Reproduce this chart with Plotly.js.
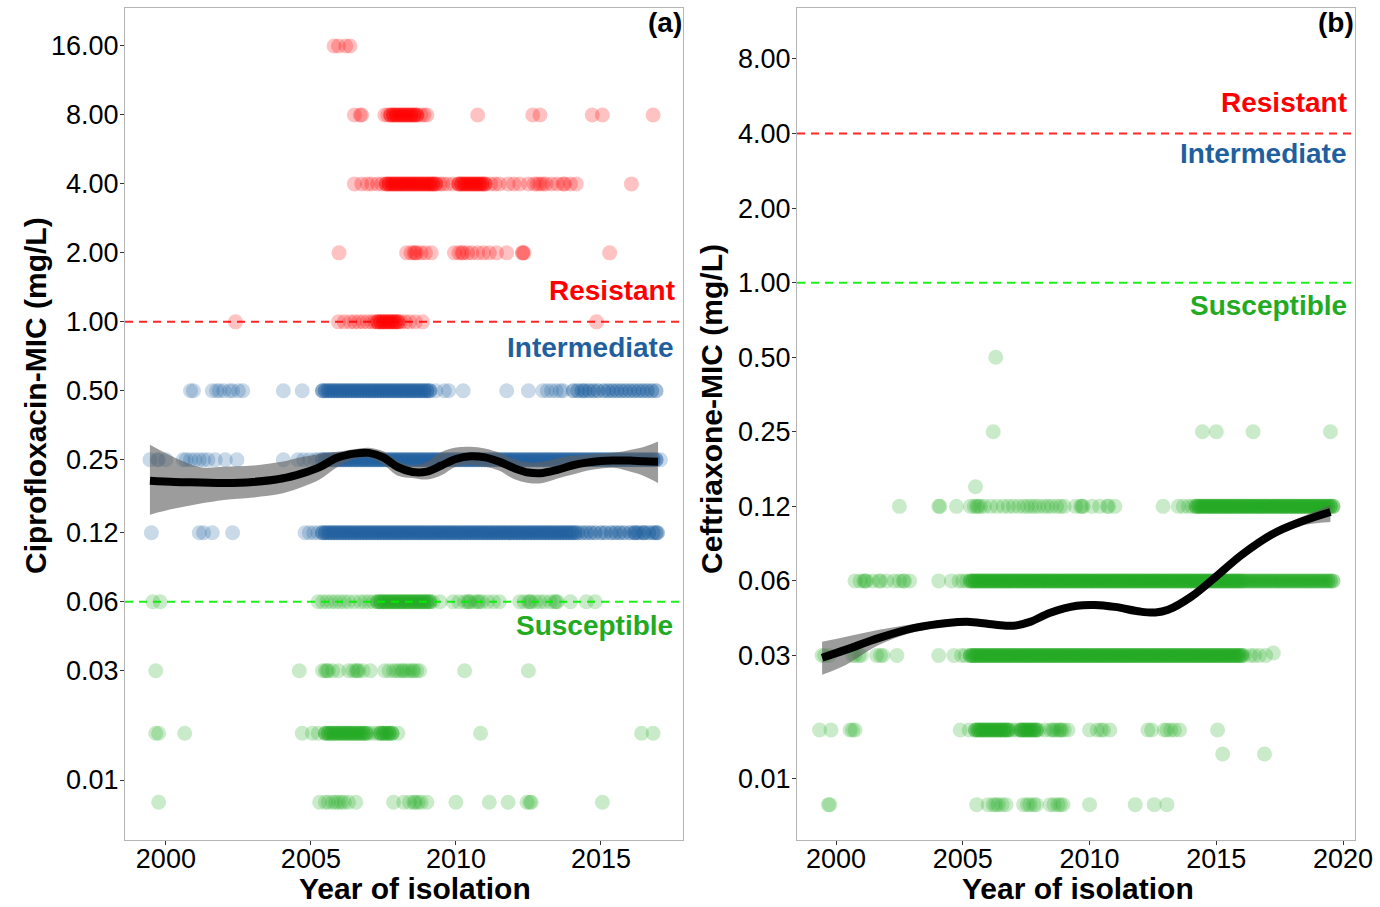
<!DOCTYPE html>
<html>
<head>
<meta charset="utf-8">
<script src="https://cdn.plot.ly/plotly-3.0.1.min.js"></script>
<style>html,body{margin:0;padding:0;background:#fff;}#chart{width:1380px;height:907px;}</style>
</head>
<body>
<div id="chart"></div>
<script>
// ---------- Panel (a): Ciprofloxacin MIC (mg/L) by year of isolation ----------
const cip_16 = [2005.8, 2005.95, 2006.2, 2006.35];
const cip_8 = [2006.5, 2006.7, 2006.75, 2007.55, 2007.65, 2008.8, 2008.9, 2009.0, 2010.75, 2012.65, 2012.9, 2014.7, 2015.05, 2016.8];
const cip_8_dense = [2007.75, 2007.85, 2007.95, 2008.05, 2008.15, 2008.25, 2008.35, 2008.45, 2008.55, 2008.65];
const cip_4 = [2006.5, 2006.75, 2006.95, 2007.1, 2007.3, 2007.45, 2009.45, 2009.55, 2009.7, 2009.9, 2011.2, 2011.35, 2011.5, 2011.8, 2012.0, 2012.2, 2012.5, 2012.7, 2012.8, 2012.9, 2013.0, 2013.1, 2013.3, 2013.5, 2013.7, 2013.75, 2013.95, 2014.15, 2016.05];
const cip_4_dense = [2007.6, 2007.7, 2007.8, 2007.9, 2008.0, 2008.1, 2008.2, 2008.3, 2008.4, 2008.5, 2008.6, 2008.7, 2008.8, 2008.9, 2009.0, 2009.1, 2009.2, 2009.3, 2010.1, 2010.2, 2010.3, 2010.4, 2010.5, 2010.6, 2010.7, 2010.8, 2010.9, 2011.0];
const cip_2 = [2005.97, 2008.3, 2008.45, 2008.55, 2008.6, 2008.65, 2008.8, 2008.95, 2009.15, 2009.95, 2010.1, 2010.2, 2010.25, 2010.4, 2010.55, 2010.75, 2010.95, 2011.15, 2011.4, 2011.75, 2012.3, 2012.3, 2012.35, 2015.3];
const cip_1 = [2002.4, 2005.95, 2006.15, 2006.35, 2006.5, 2006.65, 2006.8, 2006.95, 2007.1, 2007.2, 2008.1, 2008.25, 2008.4, 2008.6, 2008.85, 2014.85];
const cip_1_dense = [2007.3, 2007.4, 2007.5, 2007.6, 2007.7, 2007.8, 2007.9, 2008.0];
const cip_05 = [2000.85, 2000.95, 2001.6, 2001.75, 2001.85, 2002.0, 2002.2, 2002.3, 2002.5, 2002.65, 2004.05, 2004.7, 2009.3, 2009.6, 2009.75, 2010.25, 2011.75, 2012.5, 2013.0, 2013.15, 2013.3, 2013.45, 2013.6, 2013.7];
const cip_05_mid = [2014.05, 2014.2, 2014.35, 2014.45, 2014.6, 2014.75, 2014.9, 2015.1, 2015.25, 2015.4, 2015.55, 2015.7, 2015.85, 2016.0, 2016.15, 2016.3, 2016.45, 2016.6, 2016.75, 2016.9];
const cip_05_dense = [2005.4, 2005.5, 2005.6, 2005.7, 2005.8, 2005.9, 2006.0, 2006.1, 2006.2, 2006.3, 2006.4, 2006.5, 2006.6, 2006.7, 2006.8, 2006.9, 2007.0, 2007.1, 2007.2, 2007.3, 2007.4, 2007.5, 2007.6, 2007.7, 2007.8, 2007.9, 2008.0, 2008.1, 2008.2, 2008.3, 2008.4, 2008.5, 2008.6, 2008.7, 2008.8, 2008.9, 2009.0, 2009.1];
const cip_025 = [1999.45, 1999.7, 1999.75, 2000.0, 2000.6, 2000.7, 2000.85, 2001.0, 2001.15, 2001.3, 2001.45, 2001.7, 2002.05, 2002.45, 2004.05, 2004.55, 2004.75, 2004.95, 2005.15, 2005.25, 2017.05];
const cip_025_dense = [2005.4, 2005.5, 2005.6, 2005.7, 2005.8, 2005.9, 2006.0, 2006.1, 2006.2, 2006.3, 2006.4, 2006.5, 2006.6, 2006.7, 2006.8, 2006.9, 2007.0, 2007.1, 2007.2, 2007.3, 2007.4, 2007.5, 2007.6, 2007.7, 2007.8, 2007.9, 2008.0, 2008.1, 2008.2, 2008.3, 2008.4, 2008.5, 2008.6, 2008.7, 2008.8, 2008.9, 2009.0, 2009.1, 2009.2, 2009.3, 2009.4, 2009.5, 2009.6, 2009.7, 2009.8, 2009.9, 2010.0, 2010.1, 2010.2, 2010.3, 2010.4, 2010.5, 2010.6, 2010.7, 2010.8, 2010.9, 2011.0, 2011.1, 2011.2, 2011.3, 2011.4, 2011.5, 2011.6, 2011.7, 2011.8, 2011.9, 2012.0, 2012.1, 2012.2, 2012.3, 2012.4, 2012.5, 2012.6, 2012.7, 2012.8, 2012.9, 2013.0, 2013.1, 2013.2, 2013.3, 2013.4, 2013.5, 2013.6, 2013.7, 2013.8, 2013.9, 2014.0, 2014.1, 2014.2, 2014.3, 2014.4, 2014.5, 2014.6, 2014.7, 2014.8, 2014.9, 2015.0, 2015.1, 2015.2, 2015.3, 2015.4, 2015.5, 2015.6, 2015.7, 2015.8, 2015.9, 2016.0, 2016.1, 2016.2, 2016.3, 2016.4, 2016.5, 2016.6, 2016.7, 2016.8, 2016.9];
const cip_012 = [1999.5, 2001.15, 2001.3, 2001.6, 2002.3, 2004.8, 2004.95, 2005.1, 2005.25];
const cip_012_mid = [2014.2, 2014.35, 2014.5, 2014.65, 2014.8, 2015.0, 2015.15, 2015.35, 2015.5, 2015.65, 2015.8, 2016.0, 2016.15, 2016.2, 2016.3, 2016.45, 2016.5, 2016.65, 2016.8, 2016.9, 2016.95];
const cip_012_dense = [2005.4, 2005.5, 2005.6, 2005.7, 2005.8, 2005.9, 2006.0, 2006.1, 2006.2, 2006.3, 2006.4, 2006.5, 2006.6, 2006.7, 2006.8, 2006.9, 2007.0, 2007.1, 2007.2, 2007.3, 2007.4, 2007.5, 2007.6, 2007.7, 2007.8, 2007.9, 2008.0, 2008.1, 2008.2, 2008.3, 2008.4, 2008.5, 2008.6, 2008.7, 2008.8, 2008.9, 2009.0, 2009.1, 2009.2, 2009.3, 2009.4, 2009.5, 2009.6, 2009.7, 2009.8, 2009.9, 2010.0, 2010.1, 2010.2, 2010.3, 2010.4, 2010.5, 2010.6, 2010.7, 2010.8, 2010.9, 2011.0, 2011.1, 2011.2, 2011.3, 2011.4, 2011.5, 2011.6, 2011.7, 2011.8, 2011.9, 2012.0, 2012.1, 2012.2, 2012.3, 2012.4, 2012.5, 2012.6, 2012.7, 2012.8, 2012.9, 2013.0, 2013.1, 2013.2, 2013.3, 2013.4, 2013.5, 2013.6, 2013.7, 2013.8, 2013.9, 2014.0, 2014.1];
const cip_006 = [1999.55, 1999.8, 2005.25, 2005.4, 2005.55, 2005.7, 2005.85, 2006.0, 2006.15, 2006.3, 2006.5, 2006.7, 2006.85, 2007.0, 2007.15, 2009.2, 2009.45, 2009.9, 2010.1, 2010.3, 2010.4, 2010.45, 2010.5, 2010.65, 2010.75, 2010.8, 2010.9, 2011.1, 2011.3, 2011.5, 2012.2, 2012.35, 2012.5, 2012.55, 2012.6, 2012.75, 2012.9, 2013.05, 2013.25, 2013.4, 2013.45, 2013.5, 2013.95, 2014.5, 2014.8];
const cip_006_dense = [2007.3, 2007.4, 2007.5, 2007.6, 2007.7, 2007.8, 2007.9, 2008.0, 2008.1, 2008.2, 2008.3, 2008.4, 2008.5, 2008.6, 2008.7, 2008.8, 2008.9, 2009.0, 2009.1];
const cip_003 = [1999.65, 2004.6, 2005.4, 2005.5, 2005.55, 2005.6, 2005.75, 2005.95, 2006.3, 2006.45, 2006.55, 2006.6, 2006.65, 2006.8, 2007.05, 2007.55, 2007.7, 2007.85, 2007.95, 2008.05, 2008.15, 2008.2, 2008.3, 2008.4, 2008.5, 2008.55, 2008.65, 2008.75, 2010.3, 2012.5];
const cip_0016 = [1999.65, 1999.75, 2000.65, 2004.7, 2005.05, 2005.25, 2007.0, 2007.15, 2007.3, 2008.0, 2010.85, 2016.4, 2016.8];
const cip_0016_dense = [2005.5, 2005.6, 2005.7, 2005.8, 2005.9, 2006.0, 2006.1, 2006.2, 2006.3, 2006.4, 2006.5, 2006.6, 2006.7, 2006.8, 2006.9, 2007.4, 2007.5, 2007.6, 2007.7, 2007.8];
const cip_0008 = [1999.75, 2005.3, 2005.5, 2005.6, 2005.75, 2005.85, 2005.95, 2006.05, 2006.15, 2006.3, 2006.55, 2007.85, 2008.2, 2008.4, 2008.55, 2008.6, 2008.7, 2008.8, 2009.0, 2010.0, 2011.15, 2011.8, 2012.45, 2012.55, 2012.6, 2015.05];

// smoothed trend (a)
const cip_fit_x = [1999.45, 2000.3, 2001.2, 2002.0, 2003.0, 2004.0, 2004.7, 2005.3, 2005.9, 2006.5, 2007.0, 2007.5, 2008.0, 2008.5, 2009.0, 2009.5, 2010.0, 2010.5, 2011.0, 2011.5, 2012.0, 2012.5, 2013.0, 2013.5, 2014.0, 2014.5, 2015.0, 2015.5, 2016.0, 2016.5, 2016.97];
const cip_fit_y = [0.2025, 0.200, 0.199, 0.198, 0.200, 0.207, 0.218, 0.232, 0.255, 0.266, 0.268, 0.256, 0.232, 0.221, 0.222, 0.236, 0.252, 0.259, 0.256, 0.245, 0.230, 0.220, 0.219, 0.226, 0.236, 0.243, 0.247, 0.248, 0.248, 0.246, 0.245];
const cip_fit_hi = [0.291, 0.256, 0.232, 0.233, 0.236, 0.245, 0.257, 0.265, 0.271, 0.278, 0.282, 0.272, 0.246, 0.236, 0.245, 0.270, 0.283, 0.285, 0.280, 0.268, 0.252, 0.243, 0.245, 0.254, 0.260, 0.263, 0.266, 0.269, 0.276, 0.285, 0.300];
const cip_fit_lo = [0.144, 0.153, 0.161, 0.167, 0.171, 0.178, 0.190, 0.205, 0.232, 0.252, 0.255, 0.238, 0.213, 0.208, 0.205, 0.214, 0.233, 0.238, 0.233, 0.224, 0.206, 0.198, 0.198, 0.207, 0.215, 0.224, 0.229, 0.230, 0.222, 0.212, 0.198];

// ---------- Panel (b): Ceftriaxone MIC (mg/L) ----------
const cef_05 = [2006.3];
const cef_025 = [2006.2, 2014.45, 2015.0, 2016.45, 2019.5];
const cef_015 = [2005.5];
const cef_0125 = [2002.5, 2004.05, 2004.1, 2004.75, 2005.3, 2005.45, 2005.55, 2005.6, 2005.7, 2005.85, 2006.1, 2006.35, 2006.6, 2006.8, 2007.0, 2007.2, 2007.4, 2007.55, 2007.7, 2007.85, 2008.0, 2008.2, 2008.35, 2008.5, 2008.7, 2008.85, 2009.0, 2009.45, 2009.65, 2009.7, 2009.75, 2010.1, 2010.4, 2010.7, 2010.75, 2011.0, 2012.9, 2013.5, 2013.7, 2013.9, 2014.05];
const cef_0125_dense = [2014.2, 2014.3, 2014.4, 2014.5, 2014.6, 2014.7, 2014.8, 2014.9, 2015.0, 2015.1, 2015.2, 2015.3, 2015.4, 2015.5, 2015.6, 2015.7, 2015.8, 2015.9, 2016.0, 2016.1, 2016.2, 2016.3, 2016.4, 2016.5, 2016.6, 2016.7, 2016.8, 2016.9, 2017.0, 2017.1, 2017.2, 2017.3, 2017.4, 2017.5, 2017.6, 2017.7, 2017.8, 2017.9, 2018.0, 2018.1, 2018.2, 2018.3, 2018.4, 2018.5, 2018.6, 2018.7, 2018.8, 2018.9, 2019.0, 2019.1, 2019.2, 2019.3, 2019.4, 2019.5, 2019.6];
const cef_00625 = [2000.75, 2000.95, 2001.1, 2001.15, 2001.2, 2001.45, 2001.7, 2001.75, 2002.0, 2002.3, 2002.5, 2002.65, 2002.7, 2002.9, 2004.05, 2004.55, 2004.85, 2005.0, 2005.15];
const cef_00625_mid = [2016.1, 2016.2, 2016.3, 2016.4, 2016.5, 2016.6, 2016.7, 2016.8, 2016.9, 2017.0, 2017.1, 2017.2, 2017.3, 2017.4, 2017.5, 2017.6, 2017.7, 2017.8, 2017.9, 2018.0, 2018.1, 2018.2, 2018.3, 2018.4, 2018.5, 2018.6, 2018.7, 2018.8, 2018.9, 2019.0, 2019.1, 2019.2, 2019.3, 2019.4, 2019.5, 2019.6];
const cef_00625_dense = [2005.3, 2005.4, 2005.5, 2005.6, 2005.7, 2005.8, 2005.9, 2006.0, 2006.1, 2006.2, 2006.3, 2006.4, 2006.5, 2006.6, 2006.7, 2006.8, 2006.9, 2007.0, 2007.1, 2007.2, 2007.3, 2007.4, 2007.5, 2007.6, 2007.7, 2007.8, 2007.9, 2008.0, 2008.1, 2008.2, 2008.3, 2008.4, 2008.5, 2008.6, 2008.7, 2008.8, 2008.9, 2009.0, 2009.1, 2009.2, 2009.3, 2009.4, 2009.5, 2009.6, 2009.7, 2009.8, 2009.9, 2010.0, 2010.1, 2010.2, 2010.3, 2010.4, 2010.5, 2010.6, 2010.7, 2010.8, 2010.9, 2011.0, 2011.1, 2011.2, 2011.3, 2011.4, 2011.5, 2011.6, 2011.7, 2011.8, 2011.9, 2012.0, 2012.1, 2012.2, 2012.3, 2012.4, 2012.5, 2012.6, 2012.7, 2012.8, 2012.9, 2013.0, 2013.1, 2013.2, 2013.3, 2013.4, 2013.5, 2013.6, 2013.7, 2013.8, 2013.9, 2014.0, 2014.1, 2014.2, 2014.3, 2014.4, 2014.5, 2014.6, 2014.7, 2014.8, 2014.9, 2015.0, 2015.1, 2015.2, 2015.3, 2015.4, 2015.5, 2015.6, 2015.7, 2015.8, 2015.9, 2016.0];
const cef_003 = [1999.45, 1999.55, 1999.75, 2000.65, 2000.75, 2000.9, 2001.0, 2001.6, 2001.75, 2001.85, 2002.4, 2004.05, 2004.65, 2004.95, 2005.1, 2016.1, 2016.35, 2016.5, 2016.7, 2016.95];
const cef_003_dense = [2005.3, 2005.4, 2005.5, 2005.6, 2005.7, 2005.8, 2005.9, 2006.0, 2006.1, 2006.2, 2006.3, 2006.4, 2006.5, 2006.6, 2006.7, 2006.8, 2006.9, 2007.0, 2007.1, 2007.2, 2007.3, 2007.4, 2007.5, 2007.6, 2007.7, 2007.8, 2007.9, 2008.0, 2008.1, 2008.2, 2008.3, 2008.4, 2008.5, 2008.6, 2008.7, 2008.8, 2008.9, 2009.0, 2009.1, 2009.2, 2009.3, 2009.4, 2009.5, 2009.6, 2009.7, 2009.8, 2009.9, 2010.0, 2010.1, 2010.2, 2010.3, 2010.4, 2010.5, 2010.6, 2010.7, 2010.8, 2010.9, 2011.0, 2011.1, 2011.2, 2011.3, 2011.4, 2011.5, 2011.6, 2011.7, 2011.8, 2011.9, 2012.0, 2012.1, 2012.2, 2012.3, 2012.4, 2012.5, 2012.6, 2012.7, 2012.8, 2012.9, 2013.0, 2013.1, 2013.2, 2013.3, 2013.4, 2013.5, 2013.6, 2013.7, 2013.8, 2013.9, 2014.0, 2014.1, 2014.2, 2014.3, 2014.4, 2014.5, 2014.6, 2014.7, 2014.8, 2014.9, 2015.0, 2015.1, 2015.2, 2015.3, 2015.4, 2015.5, 2015.6, 2015.7, 2015.8, 2015.9, 2016.0];
const cef_0032 = [2017.25];
const cef_0016 = [1999.35, 1999.8, 2000.55, 2000.65, 2000.75, 2004.9, 2005.25, 2006.95, 2007.1, 2007.25, 2008.0, 2008.25, 2008.45, 2008.55, 2008.6, 2008.7, 2008.8, 2008.85, 2008.9, 2009.0, 2009.15, 2010.0, 2010.3, 2010.45, 2010.55, 2010.8, 2012.3, 2012.45, 2012.95, 2013.05, 2013.2, 2013.35, 2013.55, 2015.05];
const cef_0016_dense = [2005.5, 2005.6, 2005.7, 2005.8, 2005.9, 2006.0, 2006.1, 2006.2, 2006.3, 2006.4, 2006.5, 2006.6, 2006.7, 2006.8, 2007.3, 2007.4, 2007.5, 2007.6, 2007.7, 2007.8, 2007.9];
const cef_00125 = [2015.25, 2016.9];
const cef_0008 = [1999.7, 1999.75, 2005.55, 2006.0, 2006.2, 2006.3, 2006.4, 2006.55, 2006.7, 2007.4, 2007.55, 2007.65, 2007.8, 2007.9, 2008.45, 2008.6, 2008.75, 2008.85, 2008.95, 2010.0, 2011.8, 2012.55, 2013.05];

// smoothed trend (b)
const cef_fit_x = [1999.45, 2000.4, 2001.7, 2003.1, 2004.4, 2005.3, 2006.3, 2007.0, 2007.65, 2008.45, 2009.5, 2010.2, 2011.0, 2012.0, 2012.6, 2013.1, 2014.0, 2015.0, 2016.0, 2017.3, 2018.3, 2019.5];
const cef_fit_y = [0.0306, 0.0330, 0.0368, 0.0404, 0.0423, 0.0427, 0.0416, 0.0412, 0.0427, 0.0465, 0.0496, 0.0500, 0.0491, 0.0470, 0.0466, 0.0478, 0.0539, 0.0652, 0.0796, 0.0976, 0.1080, 0.1186];
const cef_fit_hi = [0.0355, 0.0372, 0.0397, 0.0419, 0.0437, 0.0440, 0.0429, 0.0424, 0.0440, 0.0480, 0.0512, 0.0517, 0.0507, 0.0485, 0.0481, 0.0494, 0.0556, 0.0672, 0.0820, 0.1006, 0.1125, 0.1265];
const cef_fit_lo = [0.0261, 0.0287, 0.0345, 0.0389, 0.0409, 0.0414, 0.0403, 0.0399, 0.0413, 0.0450, 0.0480, 0.0484, 0.0475, 0.0455, 0.0451, 0.0462, 0.0522, 0.0632, 0.0772, 0.0946, 0.1040, 0.1080];

// breakpoints (mg/L)
const cip_resistant = 1, cip_susceptible = 0.06;
const cef_resistant = 4, cef_susceptible = 1;

// tick labels
const cip_tickvals = [16, 8, 4, 2, 1, 0.5, 0.25, 0.12, 0.06, 0.03, 0.01];
const cip_ticktext = ['16.00', '8.00', '4.00', '2.00', '1.00', '0.50', '0.25', '0.12', '0.06', '0.03', '0.01'];
const cef_tickvals = [8, 4, 2, 1, 0.5, 0.25, 0.125, 0.0625, 0.03125, 0.01];
const cef_ticktext = ['8.00', '4.00', '2.00', '1.00', '0.50', '0.25', '0.12', '0.06', '0.03', '0.01'];
const yearsA = [2000, 2005, 2010, 2015];
const yearsB = [2000, 2005, 2010, 2015, 2020];

// ---------- styling ----------
const RED = 'rgb(255,0,0)', BLUE = 'rgb(31,95,158)', GREEN = 'rgb(34,170,34)';
const FONT = 'Liberation Sans, Arial, Helvetica, sans-serif';
const SPARSE_OP = 0.24, MID_OP = 0.42, DENSE_OP = 0.55, MSIZE = 15;

const traces = [];
function pts(xs, mic, color, op, xa, ya) {
  traces.push({
    type: 'scatter', mode: 'markers', x: xs, y: xs.map(() => mic),
    xaxis: xa, yaxis: ya, hoverinfo: 'x+y', showlegend: false,
    marker: {size: MSIZE, color: color, opacity: op, line: {width: 0}}
  });
}
// panel a
pts(cip_16, 16, RED, SPARSE_OP, 'x', 'y');
pts(cip_8, 8, RED, SPARSE_OP, 'x', 'y'); pts(cip_8_dense, 8, RED, DENSE_OP, 'x', 'y');
pts(cip_4, 4, RED, SPARSE_OP, 'x', 'y'); pts(cip_4_dense, 4, RED, DENSE_OP, 'x', 'y');
pts(cip_2, 2, RED, SPARSE_OP, 'x', 'y');
pts(cip_1, 1, RED, SPARSE_OP, 'x', 'y'); pts(cip_1_dense, 1, RED, DENSE_OP, 'x', 'y');
pts(cip_05, 0.5, BLUE, SPARSE_OP, 'x', 'y'); pts(cip_05_mid, 0.5, BLUE, MID_OP, 'x', 'y'); pts(cip_05_dense, 0.5, BLUE, DENSE_OP, 'x', 'y');
pts(cip_025, 0.25, BLUE, SPARSE_OP, 'x', 'y'); pts(cip_025_dense, 0.25, BLUE, DENSE_OP, 'x', 'y');
pts(cip_012, 0.12, BLUE, SPARSE_OP, 'x', 'y'); pts(cip_012_mid, 0.12, BLUE, MID_OP, 'x', 'y'); pts(cip_012_dense, 0.12, BLUE, DENSE_OP, 'x', 'y');
pts(cip_006, 0.06, GREEN, SPARSE_OP, 'x', 'y'); pts(cip_006_dense, 0.06, GREEN, DENSE_OP, 'x', 'y');
pts(cip_003, 0.03, GREEN, SPARSE_OP, 'x', 'y');
pts(cip_0016, 0.016, GREEN, SPARSE_OP, 'x', 'y'); pts(cip_0016_dense, 0.016, GREEN, DENSE_OP, 'x', 'y');
pts(cip_0008, 0.008, GREEN, SPARSE_OP, 'x', 'y');
// panel b
pts(cef_05, 0.5, GREEN, SPARSE_OP, 'x2', 'y2');
pts(cef_025, 0.25, GREEN, SPARSE_OP, 'x2', 'y2');
pts(cef_015, 0.15, GREEN, SPARSE_OP, 'x2', 'y2');
pts(cef_0125, 0.125, GREEN, SPARSE_OP, 'x2', 'y2'); pts(cef_0125_dense, 0.125, GREEN, DENSE_OP, 'x2', 'y2');
pts(cef_00625, 0.0625, GREEN, SPARSE_OP, 'x2', 'y2'); pts(cef_00625_mid, 0.0625, GREEN, MID_OP, 'x2', 'y2'); pts(cef_00625_dense, 0.0625, GREEN, DENSE_OP, 'x2', 'y2');
pts(cef_003, 0.03125, GREEN, SPARSE_OP, 'x2', 'y2'); pts(cef_003_dense, 0.03125, GREEN, DENSE_OP, 'x2', 'y2');
pts(cef_0032, 0.032, GREEN, SPARSE_OP, 'x2', 'y2');
pts(cef_0016, 0.015625, GREEN, SPARSE_OP, 'x2', 'y2'); pts(cef_0016_dense, 0.015625, GREEN, DENSE_OP, 'x2', 'y2');
pts(cef_00125, 0.0125, GREEN, SPARSE_OP, 'x2', 'y2');
pts(cef_0008, 0.0078125, GREEN, SPARSE_OP, 'x2', 'y2');

function fit(xs, ys, lo, hi, xa, ya) {
  traces.push({type: 'scatter', mode: 'lines', x: xs, y: hi, xaxis: xa, yaxis: ya,
    line: {width: 0, shape: 'spline', color: 'rgba(0,0,0,0)'}, hoverinfo: 'skip', showlegend: false});
  traces.push({type: 'scatter', mode: 'lines', x: xs, y: lo, xaxis: xa, yaxis: ya, fill: 'tonexty',
    fillcolor: 'rgba(95,95,95,0.62)', line: {width: 0, shape: 'spline', color: 'rgba(0,0,0,0)'},
    hoverinfo: 'skip', showlegend: false});
  traces.push({type: 'scatter', mode: 'lines', x: xs, y: ys, xaxis: xa, yaxis: ya,
    line: {width: 8, color: '#000', shape: 'spline'}, showlegend: false});
}
fit(cip_fit_x, cip_fit_y, cip_fit_lo, cip_fit_hi, 'x', 'y');
fit(cef_fit_x, cef_fit_y, cef_fit_lo, cef_fit_hi, 'x2', 'y2');

const tickFont = {family: FONT, size: 27, color: '#000'};
const axisCommon = {
  showline: true, mirror: true, linecolor: '#b5b5b5', linewidth: 1,
  ticks: 'outside', ticklen: 4, tickwidth: 1, tickcolor: '#333',
  showgrid: false, zeroline: false, tickfont: tickFont
};
const H = 907, W = 1380;
const yDom = [1 - 840 / H, 1 - 8 / H];

const layout = {
  width: W, height: H, paper_bgcolor: '#fff', plot_bgcolor: '#fff',
  margin: {l: 0, r: 0, t: 0, b: 0}, showlegend: false,
  font: {family: FONT},
  xaxis: Object.assign({}, axisCommon, {domain: [125 / W, 683 / W], range: [1998.59, 2017.83],
    tickmode: 'array', tickvals: yearsA, ticktext: yearsA.map(String), anchor: 'y', ticklabelstandoff: -9}),
  yaxis: Object.assign({}, axisCommon, {domain: yDom, type: 'log', range: [-2.2618, 1.3699],
    tickmode: 'array', tickvals: cip_tickvals, ticktext: cip_ticktext, anchor: 'x', ticklabelstandoff: -4}),
  xaxis2: Object.assign({}, axisCommon, {domain: [797 / W, 1355 / W], range: [1998.46, 2020.47],
    tickmode: 'array', tickvals: yearsB, ticktext: yearsB.map(String), anchor: 'y2', ticklabelstandoff: -9}),
  yaxis2: Object.assign({}, axisCommon, {domain: yDom, type: 'log', range: [-2.25, 1.1087],
    tickmode: 'array', tickvals: cef_tickvals, ticktext: cef_ticktext, anchor: 'x2', ticklabelstandoff: -4}),
  shapes: [
    {type: 'line', xref: 'x domain', yref: 'y', x0: 0, x1: 1, y0: cip_resistant, y1: cip_resistant,
      line: {color: 'rgba(255,0,0,0.85)', width: 2, dash: '8px,6px'}},
    {type: 'line', xref: 'x domain', yref: 'y', x0: 0, x1: 1, y0: cip_susceptible, y1: cip_susceptible,
      line: {color: 'rgba(0,240,0,0.9)', width: 2, dash: '8px,6px'}},
    {type: 'line', xref: 'x2 domain', yref: 'y2', x0: 0, x1: 1, y0: cef_resistant, y1: cef_resistant,
      line: {color: 'rgba(255,0,0,0.85)', width: 2, dash: '8px,6px'}},
    {type: 'line', xref: 'x2 domain', yref: 'y2', x0: 0, x1: 1, y0: cef_susceptible, y1: cef_susceptible,
      line: {color: 'rgba(0,240,0,0.9)', width: 2, dash: '8px,6px'}}
  ],
  annotations: []
};

const lab = (text, xref, yref, x, y, color, size, anchor) => ({
  text: text, xref: xref, yref: yref, x: x, y: y, xanchor: anchor || 'right', yanchor: 'middle',
  showarrow: false, borderpad: 0, font: {family: FONT, size: size, color: color}
});
layout.annotations.push(
  lab('<b>(a)</b>', 'x domain', 'y domain', 1.0, 0.983, '#000', 28),
  lab('<b>Resistant</b>', 'x domain', 'y domain', 0.988, 0.660, RED, 28),
  lab('<b>Intermediate</b>', 'x domain', 'y domain', 0.985, 0.5925, BLUE, 28),
  lab('<b>Susceptible</b>', 'x domain', 'y domain', 0.983, 0.2584, GREEN, 28),
  lab('<b>(b)</b>', 'x2 domain', 'y2 domain', 1.0, 0.983, '#000', 28),
  lab('<b>Resistant</b>', 'x2 domain', 'y2 domain', 0.988, 0.886, RED, 28),
  lab('<b>Intermediate</b>', 'x2 domain', 'y2 domain', 0.988, 0.8257, BLUE, 28),
  lab('<b>Susceptible</b>', 'x2 domain', 'y2 domain', 0.988, 0.643, GREEN, 28),
  lab('<b>Year of isolation</b>', 'paper', 'paper', 415 / W, 1 - 888 / H, '#000', 30, 'center'),
  lab('<b>Year of isolation</b>', 'paper', 'paper', 1078 / W, 1 - 888 / H, '#000', 30, 'center'),
  Object.assign(lab('<b>Ciprofloxacin-MIC (mg/L)</b>', 'paper', 'paper', 35 / W, 1 - 396 / H, '#000', 30, 'center'), {textangle: -90}),
  Object.assign(lab('<b>Ceftriaxone-MIC (mg/L)</b>', 'paper', 'paper', 712 / W, 1 - 409 / H, '#000', 30, 'center'), {textangle: -90})
);

Plotly.newPlot('chart', traces, layout, {staticPlot: true, displayModeBar: false});
</script>
</body>
</html>
